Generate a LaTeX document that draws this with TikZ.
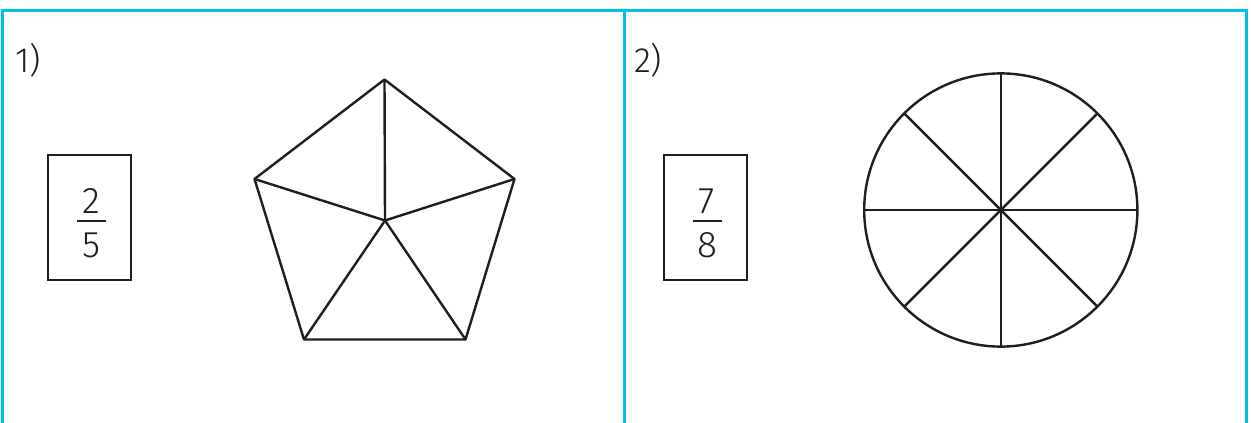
\documentclass[tikz,border=0pt]{standalone}
\usepackage{fontspec}
\setmainfont{Fira Sans}[UprightFont=* Light]
\definecolor{frameblue}{RGB}{0,192,236}
\definecolor{ink}{RGB}{30,30,30}
\tikzset{
  frame/.style={draw=frameblue, line width=3pt},
  shape line/.style={draw=ink, line width=2.4pt, line join=round},
  fracbox/.style={draw=ink, line width=2.2pt, minimum width=83pt, minimum height=125pt, inner sep=0pt},
  digit/.style={inner sep=0pt, anchor=base, text=ink, font=\fontsize{37}{40}\selectfont},
  label/.style={inner sep=0pt, anchor=base west, text=ink, font=\fontsize{35}{40}\selectfont},
}
\begin{document}
\begin{tikzpicture}[x=1pt,y=-1pt]
\useasboundingbox (0,0) rectangle (1251,423);
% frame
\coordinate (tl) at (2,10.5);
\coordinate (tr) at (1246,10.5);
\coordinate (bl) at (2,423);
\coordinate (tm) at (624,10.5);
\coordinate (bm) at (624,423);
\coordinate (br) at (1246,423);
\draw[frame] (bl) -- (tl) -- (tr) -- (br);
\draw[frame] (tm) -- (bm);
% labels
\node[label] (l1) at (15,72) {1)};
\node[label] (l2) at (634,72) {2)};
% fraction boxes
\node[fracbox] (b1) at (89.5,217.5) {};
\node[digit] (n1) at (91.5,213.5) {2};
\node[digit] (d1) at (91.5,257.5) {5};
\coordinate (f1a) at (77,221);
\coordinate (f1b) at (106,221);
\draw[draw=ink, line width=2.6pt] (f1a) -- (f1b);
\node[fracbox] (b2) at (705.5,217.5) {};
\node[digit] (n2) at (707,213.5) {7};
\node[digit] (d2) at (707,257.5) {8};
\coordinate (f2a) at (692.5,221);
\coordinate (f2b) at (721.5,221);
\draw[draw=ink, line width=2.6pt] (f2a) -- (f2b);
% pentagon
\coordinate (pt) at (384.5,79.5);
\coordinate (pr) at (514.5,179);
\coordinate (pbr) at (465.5,339.5);
\coordinate (pbl) at (304,339.5);
\coordinate (pl) at (254.5,179);
\coordinate (pc) at (385,220.5);
\draw[shape line] (pt) -- (pr) -- (pbr) -- (pbl) -- (pl) -- cycle;
\draw[shape line] (pc) -- (pt);
\draw[shape line] (pc) -- (pr);
\draw[shape line] (pc) -- (pbr);
\draw[shape line] (pc) -- (pbl);
\draw[shape line] (pc) -- (pl);
% circle
\coordinate (cc) at (1000.8,210);
\draw[shape line] (cc) circle[radius=136.6];
\foreach \a in {0,45,...,315}{
  \draw[shape line] (cc) -- ++(\a:136.6);
}
\end{tikzpicture}
\end{document}
